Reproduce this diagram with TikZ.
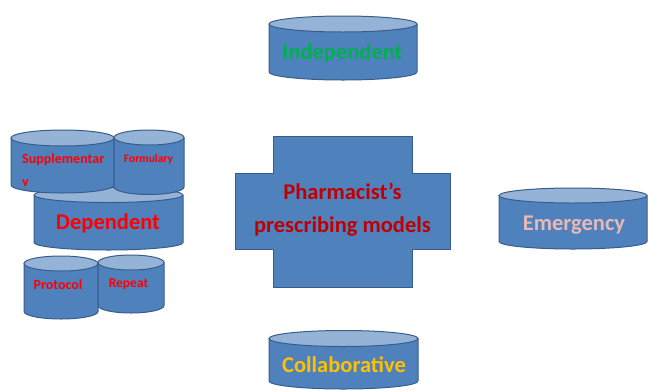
\documentclass[tikz,border=0pt]{standalone}
\usepackage{fontspec}
\setmainfont{Carlito}
\definecolor{bodyblue}{HTML}{4F81BD}
\definecolor{capblue}{HTML}{95B3D7}
\definecolor{edgeblue}{HTML}{385D8A}
\definecolor{indgreen}{HTML}{00B050}
\definecolor{emerpink}{HTML}{E6B9B8}
\definecolor{collgold}{HTML}{FFC000}
\definecolor{darkred}{HTML}{C00000}
\tikzset{
  drumbody/.style={fill=bodyblue, draw=edgeblue, line width=1pt, line join=round},
  drumcap/.style={fill=capblue, draw=edgeblue, line width=1pt},
  crossbox/.style={fill=bodyblue, draw=edgeblue, line width=1pt},
  lbl/.style={inner sep=0pt, anchor=base, font=\bfseries},
  biglbl/.style={lbl, font=\fontsize{22.5}{26}\selectfont\bfseries},
  smalllbl/.style={lbl, font=\fontsize{14}{17}\selectfont\bfseries, text=red}
}
% #1 x left, #2 x right, #3 y of top ellipse centre, #4 y of bottom ellipse centre, #5 y radius
\newcommand\drum[5]{%
  \pgfmathsetmacro\drA{(#2-#1)/2}%
  \pgfmathsetmacro\drC{(#1+#2)/2}%
  \filldraw[drumbody] (#1,#3) -- (#1,#4) arc[start angle=180, end angle=360, x radius=\drA pt, y radius=#5pt] -- (#2,#3) -- cycle;
  \filldraw[drumcap] (\drC,#3) ellipse[x radius=\drA pt, y radius=#5pt];
}
\begin{document}
\begin{tikzpicture}[x=1pt, y=-1pt]
\useasboundingbox (0,0) rectangle (648,389);

% Independent
\drum{269}{417}{24}{72}{8}
\node[biglbl, text=indgreen] (indep) at (342.5,59) {Independent};

% Central cross
\filldraw[crossbox] (273,136) -- (412,136) -- (412,173) -- (450,173) -- (450,249) -- (412,249)
  -- (412,287) -- (273,287) -- (273,249) -- (235,249) -- (235,173) -- (273,173) -- cycle;
\node[biglbl, text=darkred] (pharm1) at (342.5,199) {Pharmacist’s};
\node[biglbl, text=darkred] (pharm2) at (342.5,232) {prescribing models};

% Emergency
\drum{499}{647}{195.5}{241.5}{7.5}
\node[biglbl, text=emerpink] (emer) at (574,230) {Emergency};

% Collaborative
\drum{269}{418}{338.5}{381}{8}
\node[biglbl, text=collgold] (collab) at (344,372) {Collaborative};

% Dependent group
\drum{34}{183}{195}{242.5}{7.5}
\node[biglbl, text=red] (dep) at (108,229) {Dependent};

\drum{11}{114}{138}{185}{8}
\node[smalllbl, anchor=base west] (supp) at (22,163) {Supplementar};
\begin{scope}
  \clip (11,150) rectangle (114,185.5);
  \node[smalllbl, anchor=base west] (suppy) at (22,186.5) {y};
\end{scope}

\drum{114}{184}{137.5}{187}{7.5}
\node[lbl, font=\fontsize{11.5}{14}\selectfont\bfseries, text=red] (form) at (148.5,162) {Formulary};

\drum{24}{98}{263.5}{311.5}{7.5}
\node[smalllbl] (prot) at (58,289) {Protocol};

\drum{98}{164}{262.5}{305.5}{7.5}
\node[lbl, font=\fontsize{13.5}{16}\selectfont\bfseries, text=red] (rep) at (128.5,287) {Repeat};
\end{tikzpicture}
\end{document}
